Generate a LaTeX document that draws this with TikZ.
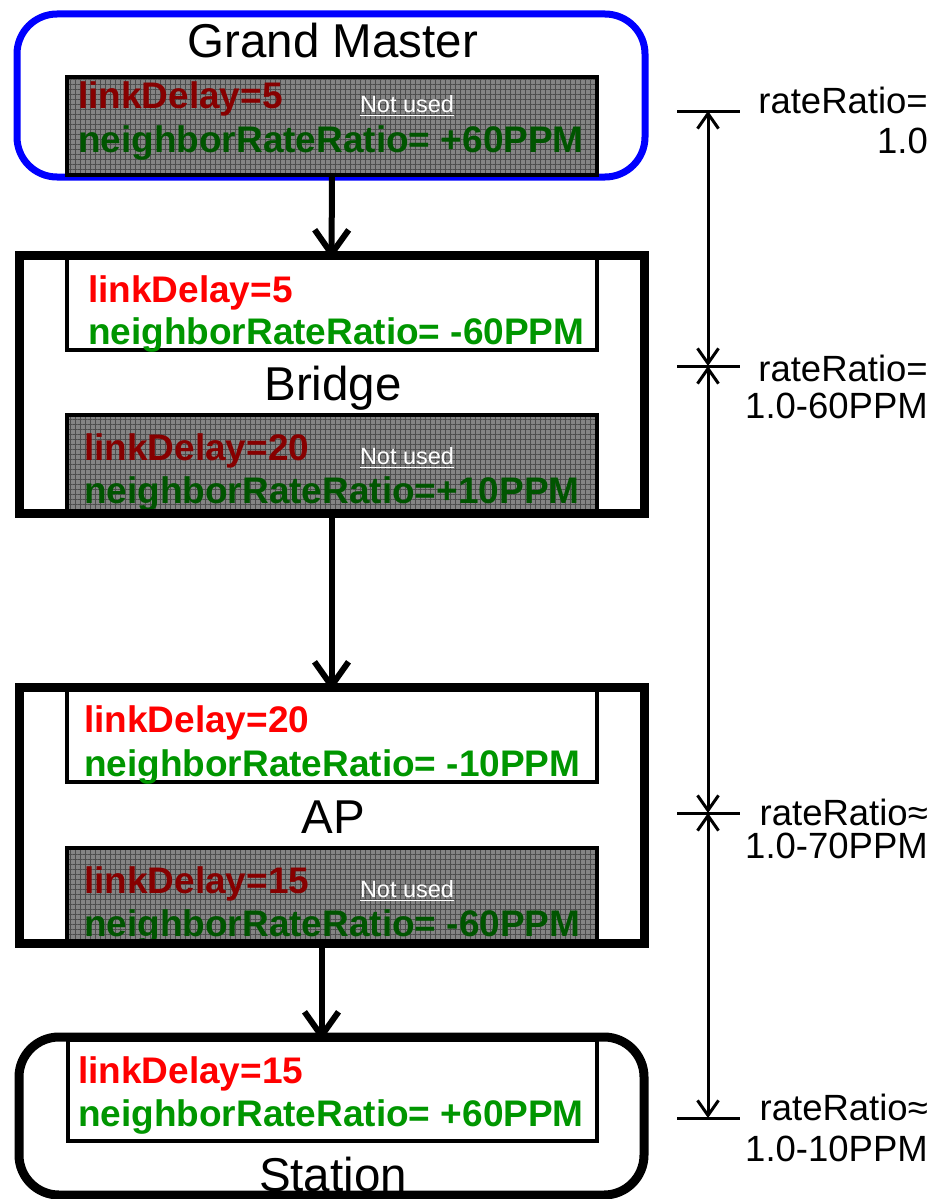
\documentclass[tikz,border=0pt]{standalone}
\usepackage{fontspec}
\setmainfont{Liberation Sans}
\usetikzlibrary{arrows.meta,patterns.meta}
\definecolor{gmblue}{RGB}{0,0,255}
\definecolor{lnkred}{RGB}{255,0,0}
\definecolor{nrrgreen}{RGB}{0,150,0}
\definecolor{dimred}{RGB}{135,0,0}
\definecolor{dimgreen}{RGB}{0,85,0}
\definecolor{panelgray}{RGB}{132,132,132}
\newcommand{\boxfont}{\fontsize{37}{44}\selectfont\bfseries}
\newcommand{\namefont}{\fontsize{47.5}{56}\selectfont}
\newcommand{\ratefont}{\fontsize{36.5}{44}\selectfont}
\newcommand{\notefont}{\fontsize{23.5}{28}\selectfont}
\begin{document}
\begin{tikzpicture}[x=1pt,y=-1pt,
  shell/.style={inner sep=0, outer sep=0, anchor=north west, fill=white},
  outline/.style={draw=black, line width=9},
  gmshell/.style={shell, draw=gmblue, line width=7, rounded corners=40},
  usedpanel/.style={draw=black, line width=4, inner sep=0, outer sep=0, anchor=north west, fill=white},
  unusedpanel/.style={draw=black, line width=4, inner sep=0, outer sep=0, anchor=north west,
     preaction={fill=panelgray},
     pattern={Hatch[angle=0,distance=5pt,line width=0.9pt]}, pattern color=black!70},
  txt/.style={inner sep=0, outer sep=0, anchor=base west},
  nodename/.style={inner sep=0, anchor=base, font=\namefont},
  ratelabel/.style={inner sep=0, anchor=base east, font=\ratefont},
  note/.style={txt, text=white, font=\notefont},
  noteline/.style={white, line width=1.6},
  flow/.style={line width=6, -{Straight Barb[length=24pt,width=34pt,line width=6pt]}},
  dimarrow/.style={line width=3, {Straight Barb[length=15pt,width=21pt,line width=3pt]}-{Straight Barb[length=15pt,width=21pt,line width=3pt]}},
  tickline/.style={line width=3},
]
\useasboundingbox (0,0) rectangle (932,1199);

% ---------- Grand Master ----------
\node[gmshell, minimum width=628, minimum height=163] (gm) at (17,14) {};
\node[nodename] (gmname) at (333,58) {Grand Master};
\node[unusedpanel, minimum width=530, minimum height=98] (gmpanel) at (67,77) {};
\node[txt, text=dimred, font=\boxfont] (gmld) at (78,108) {linkDelay=5};
\node[txt, text=dimgreen, font=\boxfont] (gmnr) at (78,152) {neighborRateRatio= +60PPM};
\node[note] (gmnote) at (360,112) {Not used};
\draw[noteline] ([yshift=-3.5]gmnote.base west) -- ([yshift=-3.5]gmnote.base east);

% ---------- Bridge ----------
\node[shell, minimum width=625, minimum height=258] (bridge) at (19,255) {};
\node[usedpanel, minimum width=530, minimum height=95] (brup) at (67,255) {};
\node[txt, text=lnkred, font=\boxfont] (brld) at (88,302) {linkDelay=5};
\node[txt, text=nrrgreen, font=\boxfont] (brnr) at (88,344) {neighborRateRatio= -60PPM};
\node[nodename] (brname) at (333,400) {Bridge};
\node[unusedpanel, minimum width=530, minimum height=97] (brpanel) at (67,415) {};
\node[txt, text=dimred, font=\boxfont] (brld2) at (84,460) {linkDelay=20};
\node[txt, text=dimgreen, font=\boxfont] (brnr2) at (84,503) {neighborRateRatio=+10PPM};
\node[note] (brnote) at (360,464) {Not used};
\draw[noteline] ([yshift=-3.5]brnote.base west) -- ([yshift=-3.5]brnote.base east);
\draw[outline] (bridge.north west) rectangle (bridge.south east);

% ---------- AP ----------
\node[shell, minimum width=625, minimum height=256] (ap) at (19,687) {};
\node[usedpanel, minimum width=530, minimum height=95] (apup) at (67,687) {};
\node[txt, text=lnkred, font=\boxfont] (apld) at (84,732) {linkDelay=20};
\node[txt, text=nrrgreen, font=\boxfont] (apnr) at (84,776) {neighborRateRatio= -10PPM};
\node[nodename] (apname) at (333,833) {AP};
\node[unusedpanel, minimum width=530, minimum height=94] (appanel) at (67,848) {};
\node[txt, text=dimred, font=\boxfont] (apld2) at (84,893) {linkDelay=15};
\node[txt, text=dimgreen, font=\boxfont] (apnr2) at (84,936) {neighborRateRatio= -60PPM};
\node[note] (apnote) at (360,897) {Not used};
\draw[noteline] ([yshift=-3.5]apnote.base west) -- ([yshift=-3.5]apnote.base east);
\draw[outline] (ap.north west) rectangle (ap.south east);

% ---------- Station ----------
\node[shell, minimum width=625, minimum height=158] (sta) at (19,1037) {};
\node[usedpanel, minimum width=529, minimum height=101] (staup) at (68,1040) {};
\node[txt, text=lnkred, font=\boxfont] (stald) at (78,1083) {linkDelay=15};
\node[txt, text=nrrgreen, font=\boxfont] (stanr) at (78,1126) {neighborRateRatio= +60PPM};
\draw[outline, rounded corners=40] (sta.north west) rectangle (sta.south east);
\node[nodename] (staname) at (333,1191) {Station};

% ---------- flow between the nodes ----------
\draw[flow] (gmpanel.south) -- ([yshift=-4]bridge.north);
\draw[flow] (bridge.south) -- ([yshift=-4]ap.north);
\draw[flow] ([xshift=-10]ap.south) -- ([xshift=-10,yshift=-4]sta.north);

% ---------- rate ratio scale ----------
\coordinate (d1) at (708,111);
\coordinate (d2) at (708,366);
\coordinate (d3) at (708,813);
\coordinate (d4) at (708,1118);
\foreach \d in {d1,d2,d3,d4}
  \draw[tickline] ([xshift=-31]\d) -- ([xshift=32]\d);
\draw[dimarrow] (d1) -- (d2);
\draw[dimarrow] (d2) -- (d3);
\draw[dimarrow] (d3) -- (d4);

\node[ratelabel] (r1a) at (928,113) {rateRatio=};
\node[ratelabel] (r1b) at (928,153) {1.0};
\node[ratelabel] (r2a) at (928,381) {rateRatio=};
\node[ratelabel] (r2b) at (928,418) {1.0-60PPM};
\node[ratelabel] (r3a) at (928,825) {rateRatio≈};
\node[ratelabel] (r3b) at (928,858) {1.0-70PPM};
\node[ratelabel] (r4a) at (928,1120) {rateRatio≈};
\node[ratelabel] (r4b) at (928,1161) {1.0-10PPM};
\end{tikzpicture}
\end{document}
